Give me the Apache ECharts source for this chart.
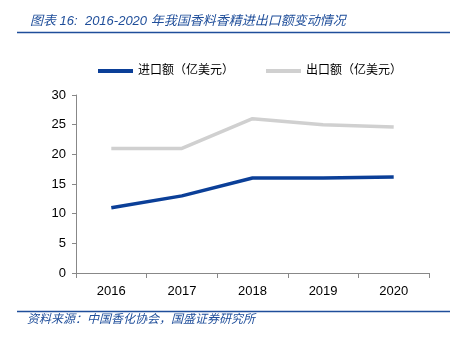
<!DOCTYPE html>
<html>
<head>
<meta charset="utf-8">
<script src="https://cdn.jsdelivr.net/npm/echarts@6/dist/echarts.min.js"></script>
<style>
  html, body { margin: 0; padding: 0; background: #fff; }
  #chart { width: 457px; height: 343px; }
</style>
</head>
<body>
<div id="chart"></div>
<script>
// Years on the category axis
const years = ['2016', '2017', '2018', '2019', '2020'];
// Import and export values (亿美元)
const importValues = [11.0, 13.0, 16.0, 16.0, 16.2];
const exportValues = [21.0, 21.0, 26.0, 25.0, 24.6];
// Series names
const importName = '进口额（亿美元）';
const exportName = '出口额（亿美元）';

const blue = '#0b3f98';
const grey = '#d0d0d0';
const headBlue = '#1f4e9a';
const font = '"Liberation Sans", "Noto Sans CJK SC", sans-serif';

const chart = echarts.init(document.getElementById('chart'), null, { renderer: 'canvas' });
chart.setOption({
  animation: false,
  backgroundColor: '#fff',
  title: {
    text: '图表 16:  2016-2020 年我国香料香精进出口额变动情况',
    left: 25, top: 10,
    textStyle: { fontFamily: font, fontSize: 13, fontStyle: 'italic', fontWeight: 'normal', color: headBlue }
  },
  graphic: [
    { type: 'line', shape: { x1: 17, y1: 32.5, x2: 450, y2: 32.5 }, style: { stroke: headBlue, lineWidth: 1.5 } },
    { type: 'line', shape: { x1: 17, y1: 311.5, x2: 450, y2: 311.5 }, style: { stroke: headBlue, lineWidth: 1.5 } },
    { type: 'text', left: 27, top: 314,
      style: { text: '资料来源：中国香化协会，国盛证券研究所', font: 'italic 12px ' + font, fill: headBlue } }
  ],
  legend: {
    top: 60, left: 93,
    itemWidth: 35, itemHeight: 4, itemGap: 32,
    icon: 'rect',
    textStyle: { fontFamily: font, fontSize: 12, color: '#000' },
    data: [importName, exportName]
  },
  grid: { left: 76, right: 28, top: 95, bottom: 70 },
  xAxis: {
    type: 'category',
    data: years,
    boundaryGap: true,
    axisLine: { lineStyle: { color: '#888', width: 1 } },
    axisTick: { show: true, length: 5, lineStyle: { color: '#888' } },
    axisLabel: { color: '#000', fontSize: 13, fontFamily: font, margin: 12 }
  },
  yAxis: {
    type: 'value',
    min: 0, max: 30, interval: 5,
    axisLine: { show: true, lineStyle: { color: '#888', width: 1 } },
    axisTick: { show: true, inside: false, length: 4, lineStyle: { color: '#888' } },
    splitLine: { show: false },
    axisLabel: { color: '#000', fontSize: 13, fontFamily: font, margin: 10 }
  },
  series: [
    {
      name: importName, type: 'line', data: importValues,
      symbol: 'none', lineStyle: { color: blue, width: 3.5 }, itemStyle: { color: blue }
    },
    {
      name: exportName, type: 'line', data: exportValues,
      symbol: 'none', lineStyle: { color: grey, width: 3.5 }, itemStyle: { color: grey }
    }
  ]
});
</script>
</body>
</html>
